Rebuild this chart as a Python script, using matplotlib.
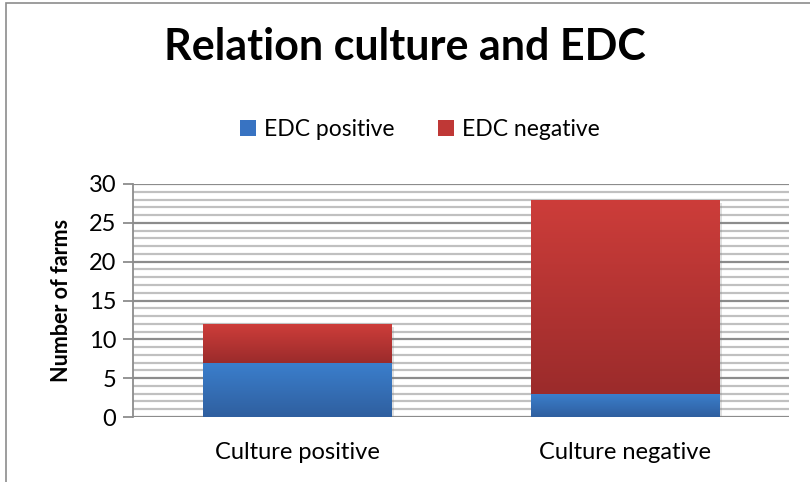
import numpy as np
import matplotlib
matplotlib.use("Agg")
import matplotlib.pyplot as plt
import matplotlib.patheffects as pe
from matplotlib.colors import LinearSegmentedColormap
from matplotlib.patches import Rectangle, Patch

plt.rcParams["font.family"] = ["Lato", "DejaVu Sans"]

# Data
categories = ["Culture positive", "Culture negative"]
edc_positive = [7, 3]
edc_negative = [5, 25]
series_names = ["EDC positive", "EDC negative"]

# Gradient colours (top -> bottom)
blue_grad = ("#3b7fcd", "#2f5f9f")
red_grad = ("#cd3d3a", "#9b2b2b")

fig = plt.figure(figsize=(8.1, 4.82), dpi=100)
ax = fig.add_axes([133 / 810, 1 - 417 / 482, (789 - 133) / 810, (417 - 184) / 482])

x = np.arange(len(categories))
width = 0.575


def gradient_bar(ax, xs, heights, bottoms, cols):
    bars = ax.bar(xs, heights, width, bottom=bottoms, color="none", edgecolor="none", zorder=3,
                  path_effects=[pe.SimplePatchShadow(offset=(2, -2.5), shadow_rgbFace="gray", alpha=0.25),
                                pe.Normal()])
    cmap = LinearSegmentedColormap.from_list("g", [cols[1], cols[0]])
    grad = np.linspace(0, 1, 256).reshape(-1, 1)
    for b in bars:
        bx, by = b.get_x(), b.get_y()
        bw, bh = b.get_width(), b.get_height()
        im = ax.imshow(grad, cmap=cmap, aspect="auto", origin="lower",
                       extent=[bx, bx + bw, by, by + bh], zorder=4)
        im.set_clip_path(b)
    return bars


gradient_bar(ax, x, edc_positive, 0, blue_grad)
gradient_bar(ax, x, edc_negative, edc_positive, red_grad)

ax.set_xlim(-0.5, len(categories) - 0.5)
ax.set_ylim(0, 30)
ax.set_yticks(range(0, 31, 5))
ax.set_yticks(range(0, 31, 1), minor=True)
ax.set_xticks(x)
ax.set_xticklabels(categories, fontsize=17)

ax.grid(axis="y", which="minor", color="#c0c0c0", linewidth=1.6, zorder=0)
ax.grid(axis="y", which="major", color="#8c8c8c", linewidth=1.6, zorder=1)
ax.set_axisbelow(True)

for s in ["top", "right", "bottom"]:
    ax.spines[s].set_visible(False)
ax.spines["left"].set_color("#8c8c8c")
ax.spines["left"].set_linewidth(1.3)
ax.tick_params(axis="y", which="major", length=7, color="#8c8c8c", width=1.3, labelsize=17, pad=5)
ax.tick_params(axis="y", which="minor", length=0)
ax.tick_params(axis="x", length=0, pad=18)

ax.set_ylabel("Number of farms", fontsize=15.5, fontweight="bold", labelpad=12)

fig.text(0.5, 1 - 47 / 482, "Relation culture and EDC", ha="center", va="center",
         fontsize=31, fontweight="bold")

handles = [Patch(facecolor="#3873c2", edgecolor="none"), Patch(facecolor="#bf3836", edgecolor="none")]
fig.legend(handles, series_names, loc="center", bbox_to_anchor=(420 / 810, 1 - 130 / 482),
           ncol=2, frameon=False, fontsize=16.5, handlelength=0.7, handleheight=0.7,
           handletextpad=0.35, columnspacing=1.9)

# chart frame
fig.patches.append(Rectangle((6 / 810, -0.1), 2, 1.1 - 3 / 482, transform=fig.transFigure,
                             fill=False, edgecolor="#8c8c8c", linewidth=1.2))

fig.savefig("out.png", dpi=100)
